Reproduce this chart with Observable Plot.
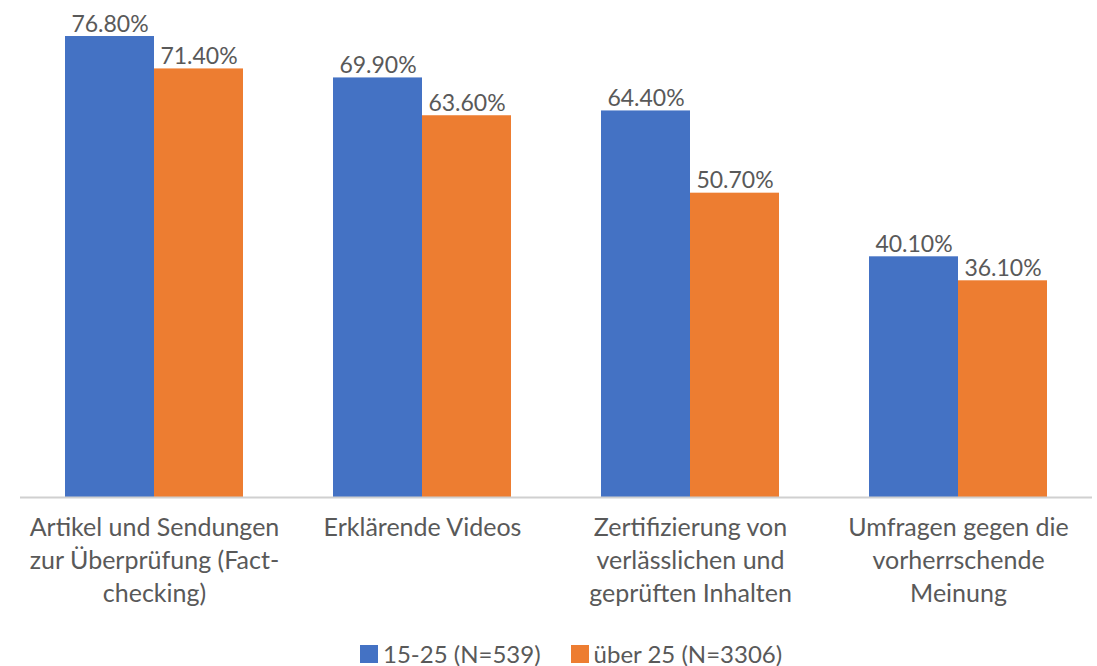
<!DOCTYPE html>
<html>
<head>
<meta charset="utf-8">
<script src="https://cdn.jsdelivr.net/npm/d3@7"></script>
<script src="https://cdn.jsdelivr.net/npm/@observablehq/plot@0.6"></script>
<style>
  html, body { margin: 0; padding: 0; background: #fff; }
  body { width: 1097px; height: 666px; overflow: hidden; font-family: Lato, "Open Sans", sans-serif; }
  #legend { display: flex; align-items: center; margin-top: 19px; padding-left: 360px; font-size: 24px; color: #595959; }
  .item { display: flex; align-items: center; margin-right: 30px; }
  .sw { width: 18px; height: 18px; margin-right: 5px; }
</style>
</head>
<body>
<div id="chart"></div>
<div id="legend"></div>
<script>
const categories = [
  "Artikel und Sendungen zur Überprüfung (Fact-checking)",
  "Erklärende Videos",
  "Zertifizierung von verlässlichen und geprüften Inhalten",
  "Umfragen gegen die vorherrschende Meinung"
];
const categoryLabels = [
  "Artikel und Sendungen\nzur Überprüfung (Fact-\nchecking)",
  "Erklärende Videos",
  "Zertifizierung von\nverlässlichen und\ngeprüften Inhalten",
  "Umfragen gegen die\nvorherrschende\nMeinung"
];
const seriesNames = ["15-25 (N=539)", "über 25 (N=3306)"];
const seriesColors = ["#4472C4", "#ED7D31"];
const values1525 = [76.8, 69.9, 64.4, 40.1];
const valuesOver25 = [71.4, 63.6, 50.7, 36.1];

const rows = [];
categories.forEach((c, i) => {
  rows.push({cat: c, series: seriesNames[0], value: values1525[i]});
  rows.push({cat: c, series: seriesNames[1], value: valuesOver25[i]});
});
const labelOf = new Map(categories.map((c, i) => [c, categoryLabels[i]]));

const W = 1097, ML = 20, MR = 5;
const padInner = 90 / 268, padOuter = 45 / 268;
const step = (W - ML - MR) / (categories.length - padInner + 2 * padOuter);
const bw = step * (1 - padInner);
const half = bw / 2;

const chart = Plot.plot({
  width: W,
  height: 620,
  marginTop: 0,
  marginLeft: ML,
  marginRight: MR,
  marginBottom: 123,
  style: {fontFamily: "Lato, 'Open Sans', sans-serif", color: "#595959", background: "#fff"},
  x: {domain: categories, paddingInner: padInner, paddingOuter: padOuter, label: null},
  y: {domain: [0, 82.8], axis: null},
  color: {domain: seriesNames, range: seriesColors},
  marks: [
    Plot.barY(rows.filter(d => d.series === seriesNames[0]), {x: "cat", y: "value", fill: "series", insetLeft: 0, insetRight: half}),
    Plot.barY(rows.filter(d => d.series === seriesNames[1]), {x: "cat", y: "value", fill: "series", insetLeft: half, insetRight: 0}),
    Plot.text(rows.filter(d => d.series === seriesNames[0]), {x: "cat", y: "value", text: d => d.value.toFixed(2) + "%", dx: -half / 2, dy: -5, lineAnchor: "bottom", fontSize: 23, fill: "#595959"}),
    Plot.text(rows.filter(d => d.series === seriesNames[1]), {x: "cat", y: "value", text: d => d.value.toFixed(2) + "%", dx: half / 2, dy: -5, lineAnchor: "bottom", fontSize: 23, fill: "#595959"}),
    Plot.ruleY([0], {stroke: "#D0D0D0", strokeWidth: 2}),
    Plot.axisX({tickSize: 0, tickPadding: 15, fontSize: 25, lineHeight: 1.32, tickFormat: d => labelOf.get(d), label: null, fill: "#595959"})
  ]
});
document.getElementById("chart").appendChild(chart);

const legend = document.getElementById("legend");
seriesNames.forEach((s, i) => {
  const item = document.createElement("div");
  item.className = "item";
  const sw = document.createElement("div");
  sw.className = "sw";
  sw.style.background = seriesColors[i];
  const t = document.createElement("span");
  t.textContent = s;
  item.appendChild(sw);
  item.appendChild(t);
  legend.appendChild(item);
});
</script>
</body>
</html>
